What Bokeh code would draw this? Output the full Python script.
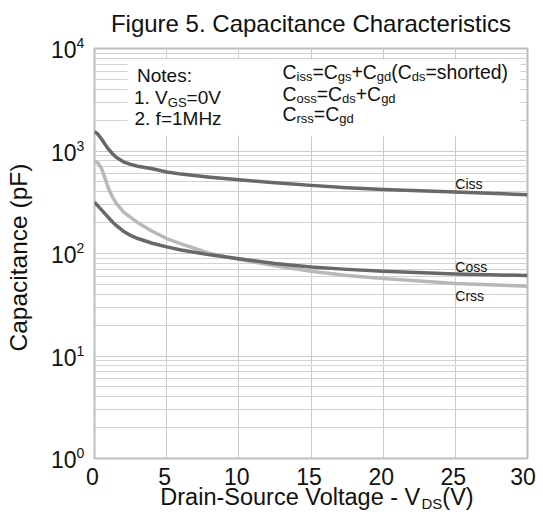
import math
from bokeh.plotting import figure
from bokeh.models import FixedTicker, BoxAnnotation, Range1d
from bokeh.core.properties import value
from bokeh.embed import file_html
from bokeh.resources import INLINE

# ---- data ----
vds = [0, 0.25, 0.5, 0.75, 1, 1.25, 1.5, 2, 2.5, 3, 4, 5, 6, 8, 10, 12.5, 15, 17.5, 20, 25, 30]
ciss = [1550, 1450, 1300, 1150, 1030, 940, 870, 785, 740, 710, 670, 625, 595, 555, 525, 490, 462, 438, 420, 398, 375]
coss = [316, 290, 265, 242, 222, 203, 188, 165, 150, 140, 126, 116, 108, 97, 89, 80, 74, 70, 67, 63, 61]
crss = [800, 760, 670, 530, 420, 355, 310, 255, 225, 200, 165, 140, 124, 100, 88, 76, 67, 61, 57, 51, 48]

x_ticks = [0, 5, 10, 15, 20, 25, 30]
x_tick_labels = ["0", "5", "10", "15", "20", "25", "30"]
y_decades = [1, 10, 100, 1000, 10000]
y_exponents = ["0", "1", "2", "3", "4"]
y_minor = [m * d for d in [1, 10, 100, 1000] for m in range(2, 10)]

FONT = "Liberation Sans"
DARK = "#686868"
LIGHT = "#b8b8b8"
TXT = "#111111"
KFIX = 0.36  # baseline correction (fraction of font size)

# Arial / Liberation Sans advance widths (per 1000 em)
W = {' ': 278, '(': 333, ')': 333, '+': 584, '-': 333, '.': 278, ':': 278, '=': 584,
     '0': 556, '1': 556, '2': 556, '5': 556,
     'C': 722, 'D': 722, 'F': 611, 'G': 778, 'H': 722, 'M': 833, 'N': 722, 'S': 667, 'V': 667,
     'a': 556, 'c': 500, 'd': 556, 'e': 556, 'f': 278, 'g': 556, 'h': 556, 'i': 222, 'l': 222,
     'n': 556, 'o': 556, 'p': 556, 'r': 333, 's': 500, 't': 278, 'u': 556, 'z': 500}


def tw(s, size):
    return sum(W.get(c, 556) for c in s) * size / 1000.0


p = figure(width=543, height=529, x_range=Range1d(0, 30), y_range=Range1d(1, 10000),
           y_axis_type="log", output_backend="svg", toolbar_location=None,
           min_border_left=94, min_border_right=16, min_border_top=48, min_border_bottom=71)

p.xaxis.visible = False
p.yaxis.visible = False
xt = FixedTicker(ticks=x_ticks)
yt = FixedTicker(ticks=y_decades, minor_ticks=y_minor)
p.xaxis.ticker = xt
p.yaxis.ticker = yt
p.xgrid.ticker = xt
p.ygrid.ticker = yt
p.xgrid.grid_line_color = "#cccccc"
p.ygrid.grid_line_color = "#cccccc"
p.ygrid.minor_grid_line_color = "#d2d2d2"
p.outline_line_color = "#bdbdbd"
p.outline_line_width = 2
p.background_fill_color = "white"
p.border_fill_color = "white"

# notes box (hides the grid behind the notes)
p.add_layout(BoxAnnotation(left=2.29, right=29.5, bottom=1416, top=7820,
                           fill_color="white", fill_alpha=1.0, line_color=None, level="annotation"))

p.line(vds, crss, line_color=LIGHT, line_width=3.5, line_join="round")
p.line(vds, ciss, line_color=DARK, line_width=3.5, line_join="round")
p.line(vds, coss, line_color=DARK, line_width=3.5, line_join="round")


def lab(x, y, text, size, xo=0, yo=0, align="left", angle=0.0, color=TXT):
    # yo: pixels upward (baseline position)
    if angle == 0.0:
        yo = yo + KFIX * size
    else:
        xo = xo - KFIX * size
    p.text(x=[x], y=[y], text=[text], x_offset=xo, y_offset=-yo, angle=angle,
           text_font=value(FONT), text_font_size=value(f"{size}px"), text_color=color,
           text_align=align, text_baseline="alphabetic", level="overlay")


def rich(x, y, x0, y0, segs, center=False):
    total = sum(tw(t, s) for t, s, _ in segs)
    cx = x0 - total / 2.0 if center else x0
    for t, s, dy in segs:
        lab(x, y, t, s, xo=cx, yo=y0 + dy)
        cx += tw(t, s)


# title
lab(15, 10000, "Figure 5. Capacitance Characteristics", 24, yo=16, align="center")

# y tick labels
for d, e in zip(y_decades, y_exponents):
    lab(0, d, "10", 23, xo=-18, yo=-9.5, align="right")
    lab(0, d, e, 14, xo=-18, yo=0)

# x tick labels
for t, s in zip(x_ticks, x_tick_labels):
    off = -2 if t < 30 else -4.5
    lab(t, 1, s, 23, xo=off, yo=-26.5, align="center")

# axis titles
lab(0, 100, "Capacitance (pF)", 24.5, xo=-67, yo=-4, align="center", angle=math.pi / 2)
rich(0, 1, 222.5, -46.5, [("Drain-Source Voltage - V", 23.5, 0), ("DS", 15, -4), ("(V)", 23.5, 0)], center=True)

# notes
S, s = 19, 13
rich(0, 10000, 42.5, -34, [("Notes:", S, 0)])
rich(0, 10000, 39.5, -55.5, [("1. V", S, 0), ("GS", s, -3), ("=0V", S, 0)])
rich(0, 10000, 40, -77, [("2. f=1MHz", S, 0)])

S2 = 19.4
rich(0, 10000, 188, -30, [("C", S2, 0), ("iss", s, -3), ("=C", S2, 0), ("gs", s, -3), ("+C", S2, 0),
                          ("gd", s, -3), ("(C", S2, 0), ("ds", s, -3), ("=shorted)", S2, 0)])
rich(0, 10000, 188, -52, [("C", S2, 0), ("oss", s, -3), ("=C", S2, 0), ("ds", s, -3), ("+C", S2, 0), ("gd", s, -3)])
rich(0, 10000, 188, -72, [("C", S2, 0), ("rss", s, -3), ("=C", S2, 0), ("gd", s, -3)])

# curve labels
lab(25, 428, "Ciss", 14)
lab(25, 66, "Coss", 14)
lab(25, 34.3, "Crss", 14)

open("out.html", "w").write(file_html(p, INLINE))
